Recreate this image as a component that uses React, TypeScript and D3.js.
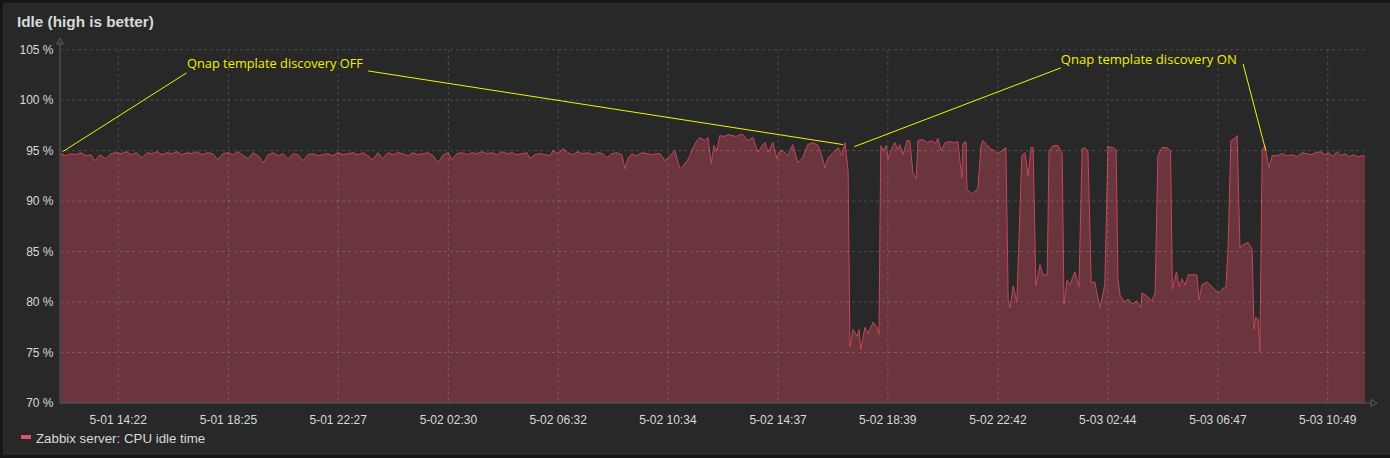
import React, { useEffect } from "react";
import * as d3 from "d3";

// ---- data ----
const START = new Date(2019, 4, 1, 12, 13, 30);
const SPAN_MINUTES = 2880;

const yTicks = [70, 75, 80, 85, 90, 95, 100, 105];
const xTickLabels = [
  "5-01 14:22", "5-01 18:25", "5-01 22:27", "5-02 02:30", "5-02 06:32", "5-02 10:34",
  "5-02 14:37", "5-02 18:39", "5-02 22:42", "5-03 02:44", "5-03 06:47", "5-03 10:49",
];

// [minutes since START, CPU idle %]
const idleBeforeOff: [number, number][] = [
  [2, 94.7], [13, 94.5], [24, 94.7], [35, 94.6], [46, 94.8], [57, 94.5], [68, 94.6], [77, 94.0],
  [88, 94.6], [101, 94.2], [112, 94.7], [123, 94.8], [135, 94.7], [146, 94.9], [157, 94.6], [168, 94.8],
  [181, 94.3], [192, 94.8], [203, 94.7], [214, 94.9], [225, 94.6], [236, 94.8], [247, 94.7], [258, 94.9],
  [269, 94.6], [280, 94.8], [291, 94.7], [302, 94.9], [313, 94.6], [326, 94.8], [337, 94.7], [348, 94.1],
  [359, 94.7], [370, 94.8], [382, 94.6], [393, 94.9], [404, 94.5], [415, 94.2], [426, 94.8], [437, 94.5],
  [448, 93.8], [459, 94.6], [470, 94.8], [481, 94.5], [492, 94.7], [503, 94.2], [514, 94.7], [525, 94.6],
  [536, 94.0], [547, 94.6], [558, 94.7], [569, 94.5], [580, 94.6], [591, 94.7], [602, 94.5], [613, 94.8],
  [624, 94.6], [635, 94.7], [646, 94.8], [657, 94.6], [668, 94.8], [679, 94.5], [690, 94.1], [701, 94.8],
  [712, 94.2], [723, 94.8], [734, 94.6], [745, 94.8], [756, 94.7], [767, 94.5], [778, 94.8], [789, 94.6],
  [800, 94.7], [812, 94.8], [823, 94.5], [834, 93.8], [845, 94.6], [856, 94.8], [864, 94.1], [875, 94.7],
  [886, 94.8], [898, 94.6], [909, 94.8], [920, 94.7], [931, 94.9], [942, 94.7], [953, 94.8], [964, 94.6],
  [975, 94.9], [986, 94.7], [997, 94.8], [1008, 94.6], [1019, 94.7], [1030, 94.8], [1036, 94.2], [1047, 94.6],
  [1058, 94.7], [1070, 94.6], [1081, 94.5], [1087, 95.0], [1098, 94.7], [1109, 95.2], [1120, 94.8], [1131, 94.6],
  [1142, 94.9], [1153, 94.7], [1164, 94.8], [1175, 94.6], [1186, 94.8], [1197, 94.7], [1206, 94.3], [1217, 94.7],
  [1228, 94.8], [1239, 94.6], [1246, 93.2], [1253, 94.3], [1261, 94.7], [1272, 94.5], [1283, 94.8], [1294, 94.7],
  [1305, 94.6], [1317, 94.7], [1323, 94.7], [1334, 94.0], [1345, 94.5], [1356, 95.0], [1367, 93.2], [1374, 93.5],
  [1383, 94.0], [1389, 94.5], [1396, 95.3], [1405, 96.0], [1411, 96.3], [1422, 96.0], [1429, 96.3], [1436, 93.7],
  [1442, 95.5], [1449, 95.0], [1455, 96.5], [1464, 96.4], [1473, 96.6], [1482, 96.5], [1491, 96.4], [1500, 96.6],
  [1506, 96.6], [1517, 96.0], [1528, 96.3], [1539, 94.8], [1548, 95.5], [1555, 95.8], [1561, 94.8], [1572, 95.8],
  [1581, 94.2], [1588, 95.0], [1594, 95.0], [1605, 94.5], [1616, 95.6], [1627, 93.8], [1638, 94.3], [1649, 95.6],
  [1661, 95.8], [1672, 95.5], [1680, 94.5], [1687, 93.3], [1694, 94.3], [1705, 94.8], [1716, 95.3], [1724, 94.5],
  [1731, 95.8], [1738, 93.0],
];

const idleDiscoveryOff: [number, number][] = [
  [1742, 75.6], [1749, 77.3], [1758, 76.6], [1762, 77.3], [1766, 75.3], [1775, 77.5], [1782, 76.9], [1793, 78.0],
  [1802, 77.5], [1806, 76.8], [1810, 95.5], [1815, 95.0], [1822, 95.5], [1826, 94.2], [1835, 95.3], [1841, 95.8],
  [1848, 95.1], [1852, 95.6], [1859, 94.6], [1868, 96.0], [1874, 96.0], [1881, 92.8], [1888, 92.2], [1892, 96.0],
  [1903, 96.1], [1912, 95.8], [1923, 96.0], [1930, 95.7], [1936, 96.2], [1943, 95.0], [1952, 95.8], [1963, 95.9],
  [1971, 95.8], [1980, 95.9], [1985, 93.8], [1989, 92.3], [1991, 95.7], [1998, 95.9], [2000, 91.2], [2011, 90.7],
  [2018, 91.0], [2024, 91.2], [2031, 95.5], [2035, 96.0], [2044, 95.6], [2051, 95.2], [2060, 95.0], [2068, 94.7],
  [2077, 95.0], [2086, 95.3], [2091, 80.1], [2095, 79.4], [2102, 81.6], [2110, 80.0], [2121, 94.5], [2128, 94.8],
  [2135, 92.5], [2141, 95.3], [2146, 95.3], [2152, 81.6], [2161, 83.7], [2168, 82.7], [2177, 82.7], [2181, 95.0],
  [2190, 95.5], [2201, 95.5], [2210, 94.7], [2214, 79.8], [2221, 82.2], [2227, 81.7], [2238, 83.0], [2247, 81.5],
  [2254, 95.2], [2260, 95.3], [2267, 94.8], [2274, 81.9], [2282, 82.0], [2293, 79.4], [2304, 81.7], [2311, 95.4],
  [2322, 95.3], [2329, 95.1], [2333, 82.3], [2338, 80.6], [2349, 80.0], [2355, 80.3], [2364, 79.8], [2375, 80.1],
  [2384, 79.4], [2386, 80.9], [2397, 80.6], [2408, 80.1], [2415, 80.9], [2421, 94.5], [2430, 95.3], [2441, 95.3],
  [2449, 95.0], [2453, 81.3], [2462, 83.0], [2468, 81.5], [2474, 82.3], [2481, 81.7], [2488, 82.7], [2503, 82.7],
  [2507, 82.7], [2512, 80.2], [2518, 81.7], [2529, 82.0], [2536, 81.7], [2547, 81.2], [2556, 80.9], [2565, 81.4],
  [2571, 81.4], [2576, 85.6], [2582, 96.0], [2591, 96.2], [2596, 96.5], [2602, 85.4], [2609, 85.7], [2620, 85.9],
  [2629, 85.2], [2633, 77.3], [2637, 78.5], [2642, 78.3], [2646, 75.1],
];

const idleAfterOn: [number, number][] = [
  [2651, 95.0], [2657, 95.5], [2666, 93.3], [2673, 94.5], [2684, 94.5], [2695, 94.7], [2706, 94.5], [2717, 94.6],
  [2728, 94.4], [2739, 94.8], [2748, 94.7], [2759, 94.6], [2770, 94.8], [2779, 94.9], [2790, 94.6], [2798, 94.8],
  [2807, 94.4], [2816, 94.9], [2825, 94.5], [2834, 94.7], [2843, 94.4], [2852, 94.6], [2862, 94.4], [2873, 94.5],
  [2878, 94.4],
];

// annotation: label anchor [minute, %], connectors [[from], [to]]
const annotationLabels = ["Qnap template discovery OFF", "Qnap template discovery ON"];
const annotationAnchors: [number, number][] = [[280, 103.2], [2207, 103.6]];
const annotationLinks: [number, number][][][] = [
  [[[279, 102.7], [6, 94.9]], [[679, 102.9], [1727, 95.6]]],
  [[[2207, 103.2], [1752, 95.4]], [[2609, 103.6], [2659, 95.0]]],
];

const seriesName = "Zabbix server: CPU idle time";
const title = "Idle (high is better)";

// ---- chart ----
const W = 1390;
const H = 458;
const PLOT_L = 60;
const PLOT_R = 1366;
const PLOT_T = 49.7;
const PLOT_B = 403;

const toDate = (m: number) => new Date(START.getTime() + m * 60000);
const parseTick = (s: string) => {
  const [md, hm] = s.split(" ");
  const [mo, d] = md.split("-").map(Number);
  const [h, mi] = hm.split(":").map(Number);
  return new Date(2019, mo - 1, d, h, mi);
};

export default function App() {
  useEffect(() => {
    document.body.style.margin = "0";
    document.body.style.background = "#161616";
  }, []);

  const x = d3.scaleTime().domain([START, toDate(SPAN_MINUTES)]).range([PLOT_L, PLOT_R]);
  const y = d3.scaleLinear().domain([70, 105]).range([PLOT_B, PLOT_T]);

  const data = [...idleBeforeOff, ...idleDiscoveryOff, ...idleAfterOn];
  const area = d3
    .area<[number, number]>()
    .x((d) => x(toDate(d[0])))
    .y0(y(70))
    .y1((d) => y(d[1]));
  const line = d3
    .line<[number, number]>()
    .x((d) => x(toDate(d[0])))
    .y((d) => y(d[1]));

  const tickDates = xTickLabels.map(parseTick);
  const font = "'Liberation Sans', Arial, sans-serif";
  const grid = "rgba(255,255,255,0.17)";
  const axisColor = "#5a5a5a";
  const P = (p: [number, number]) => [x(toDate(p[0])), y(p[1])];

  return (
    <svg width={W} height={H} style={{ position: "absolute", left: 0, top: 0, display: "block" }}>
      <rect x={0} y={0} width={W} height={H} fill="#161616" />
      <rect x={3} y={3} width={W - 3} height={H - 6} fill="#282828" />
      <text x={17} y={27} fill="#d8d9da" fontFamily={font} fontWeight="bold" fontSize={15.3}>
        {title}
      </text>

      {/* area + line */}
      <path d={area(data) || ""} fill="#6b353d" />
      <path d={line(data) || ""} fill="none" stroke="#c4465a" strokeWidth={1} />

      {/* grid */}
      {yTicks.filter((t) => t > 70).map((t) => (
        <line key={"gy" + t} x1={PLOT_L} x2={PLOT_R} y1={y(t)} y2={y(t)} stroke={grid} strokeDasharray="3,3" />
      ))}
      {tickDates.map((d, i) => (
        <line key={"gx" + i} x1={x(d)} x2={x(d)} y1={PLOT_T} y2={PLOT_B} stroke={grid} strokeDasharray="3,3" />
      ))}

      {/* axes */}
      <line x1={PLOT_L} x2={PLOT_L} y1={PLOT_B} y2={41} stroke={axisColor} />
      <path d={`M${PLOT_L - 3.5},${44} L${PLOT_L},${38} L${PLOT_L + 3.5},${44} Z`} fill="none" stroke={axisColor} />
      <line x1={PLOT_L} x2={1372} y1={PLOT_B} y2={PLOT_B} stroke={axisColor} />
      <path d={`M${1371},${PLOT_B - 3.5} L${1377},${PLOT_B} L${1371},${PLOT_B + 3.5} Z`} fill="none" stroke={axisColor} />

      {yTicks.map((t) => (
        <text key={"ty" + t} x={53.5} y={y(t) + 4} textAnchor="end" fill="#d8d9da" fontFamily={font} fontSize={12}>
          {`${t} %`}
        </text>
      ))}
      {tickDates.map((d, i) => (
        <text key={"tx" + i} x={x(d)} y={424} textAnchor="middle" fill="#d8d9da" fontFamily={font} fontSize={12}>
          {xTickLabels[i]}
        </text>
      ))}

      {/* annotations */}
      {annotationLabels.map((lab, i) => {
        const [ax, ay] = P(annotationAnchors[i]);
        return (
          <g key={"an" + i}>
            {annotationLinks[i].map((lk, j) => {
              const [x1, y1] = P(lk[0]);
              const [x2, y2] = P(lk[1]);
              return <line key={j} x1={x1} y1={y1} x2={x2} y2={y2} stroke="#f2f200" strokeWidth={1} />;
            })}
            <text
              x={ax}
              y={ay}
              fill="#f0f000"
              fontFamily="'Open Sans', 'Noto Sans', sans-serif"
              fontSize={13}
              textLength={176}
              lengthAdjust="spacingAndGlyphs"
            >
              {lab}
            </text>
          </g>
        );
      })}

      {/* legend */}
      <rect x={21} y={435} width={10} height={4} fill="#e0506a" />
      <text x={36} y={443} fill="#d8d9da" fontFamily={font} fontSize={13.3}>
        {seriesName}
      </text>
    </svg>
  );
}
